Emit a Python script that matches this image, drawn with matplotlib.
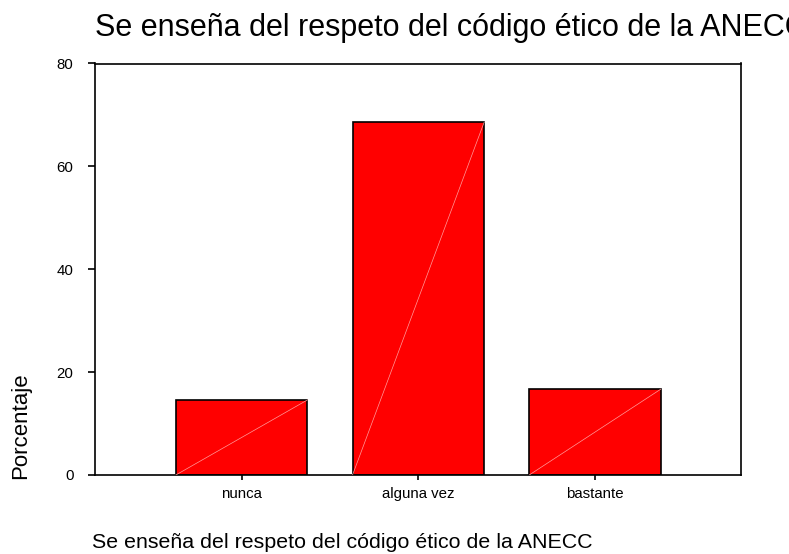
import matplotlib
matplotlib.use("Agg")
import matplotlib.pyplot as plt

categories = ["nunca", "alguna vez", "bastante"]
percentages = [14.6, 68.6, 16.7]
yticks = [0, 20, 40, 60, 80]
title = "Se enseña del respeto del código ético de la ANECC"
xlabel = "Se enseña del respeto del código ético de la ANECC"
ylabel = "Porcentaje"

plt.rcParams['font.family'] = ['Liberation Sans', 'DejaVu Sans']

fig = plt.figure(figsize=(7.89, 5.54), dpi=100)
ax = fig.add_axes([95/789, 1-475/554, (741-95)/789, (475-63.5)/554])

x = list(range(len(categories)))
width = 0.745
bars = ax.bar(x, percentages, width=width, color="#ff0000", edgecolor="black",
              linewidth=1.2, zorder=2)
for xi, v in zip(x, percentages):
    ax.plot([xi - width/2, xi + width/2], [0, v], color="#ff9c9c", lw=0.5, zorder=3)

ax.set_xlim(-0.83, 2.826)
ax.set_ylim(0, 80)
ax.set_yticks(yticks)
ax.set_yticklabels([str(t) for t in yticks], fontsize=10.8)
ax.set_xticks(x)
ax.set_xticklabels(categories, fontsize=10.8)
ax.tick_params(axis='y', direction='out', length=5, width=1.2, pad=10.5)
ax.tick_params(axis='x', direction='out', length=3.8, width=1.2, pad=5)
for s in ax.spines.values():
    s.set_linewidth(1.2)

fig.text(95/789, 1-36/554, title, fontsize=22, ha='left', va='baseline')
fig.text(92/789, 1-543/554, xlabel, fontsize=15.4, ha='left', va='center')
fig.text(21/789, 1-426/554, ylabel, fontsize=16, rotation=90, ha='center', va='center')

fig.savefig("out.png", dpi=100)
